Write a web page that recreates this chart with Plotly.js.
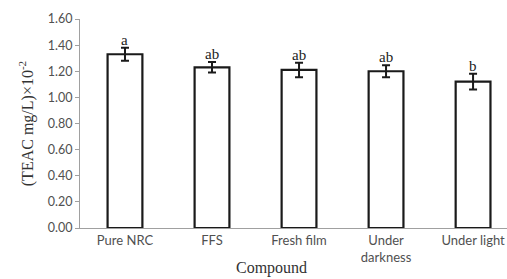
<!DOCTYPE html>
<html><head><meta charset="utf-8">
<script src="https://cdn.plot.ly/plotly-3.0.1.min.js"></script>
<style>body{margin:0;background:#fff}#c{width:507px;height:279px}</style>
</head><body><div id="c"></div>
<script>
const categories = ["Pure NRC", "FFS", "Fresh film", "Under<br>darkness", "Under light"];
const values = [1.33, 1.23, 1.21, 1.20, 1.12];
const errors = [0.05, 0.04, 0.055, 0.045, 0.06];
const letters = ["a", "ab", "ab", "ab", "b"];
const yTicks = [0, 0.2, 0.4, 0.6, 0.8, 1.0, 1.2, 1.4, 1.6];

const serif = "Liberation Serif, Times New Roman, serif";
const sans = "Lato, Open Sans, sans-serif";
const trace = {
  type: "bar", x: categories, y: values, width: 0.4,
  marker: {color: "#ffffff", line: {color: "#1a1a1a", width: 2.2}},
  error_y: {type: "data", array: errors, visible: true, color: "#1a1a1a", thickness: 2, width: 4}
};
const annotations = categories.map((c, i) => ({
  x: c, y: values[i] + errors[i], xref: "x", yref: "y", text: letters[i],
  showarrow: false, yanchor: "bottom", yshift: -2,
  font: {family: serif, size: 15, color: "#222"}
}));
annotations.push({
  text: "Compound", xref: "paper", yref: "paper", x: 0.449, y: 0, yshift: -40,
  xanchor: "center", yanchor: "middle", showarrow: false,
  font: {family: serif, size: 16, color: "#333"}
});
const layout = {
  width: 507, height: 279,
  margin: {l: 80, r: 0, t: 19, b: 51},
  paper_bgcolor: "#fff", plot_bgcolor: "#fff",
  showlegend: false,
  font: {family: sans, size: 13, color: "#505050"},
  xaxis: {
    type: "category", range: [-0.517, 4.39],
    showline: true, linecolor: "#a0a0a0", linewidth: 1, ticks: "", showgrid: false, zeroline: false,
    tickfont: {family: sans, size: 13, color: "#505050"}
  },
  yaxis: {
    range: [0, 1.6], tickvals: yTicks, ticktext: yTicks.map(v => v.toFixed(2)),
    showline: true, linecolor: "#a0a0a0", linewidth: 1, ticks: "outside", ticklen: 4, tickcolor: "#a0a0a0",
    showgrid: false, zeroline: false,
    tickfont: {family: sans, size: 12.5, color: "#505050"},
    title: {text: "(TEAC mg/L)×10<sup>-2</sup>", standoff: 10, font: {family: serif, size: 16, color: "#333"}}
  },
  annotations: annotations
};
Plotly.newPlot("c", [trace], layout, {displayModeBar: false, staticPlot: true});
</script></body></html>
